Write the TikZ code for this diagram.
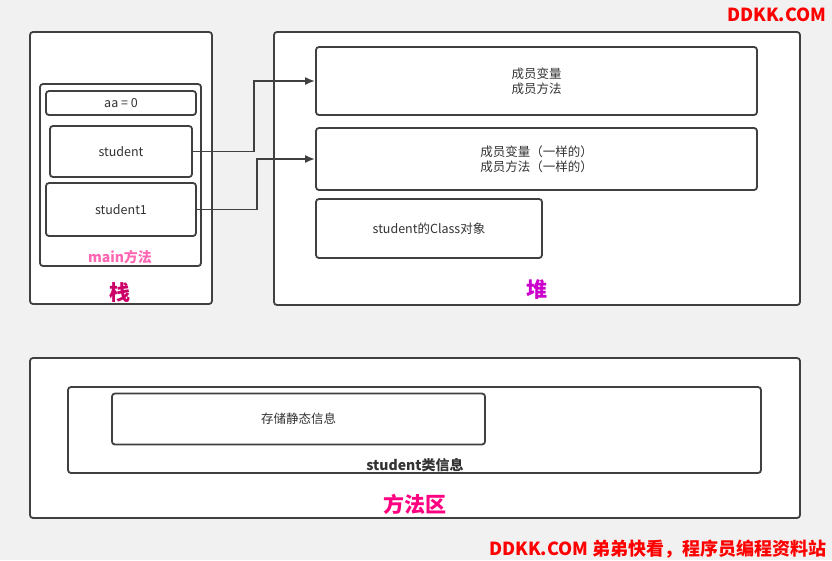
\documentclass[tikz,border=0pt]{standalone}
\usepackage{fontspec}
\setmainfont{Noto Sans CJK SC}
\usepackage{xcolor}
\usetikzlibrary{arrows.meta}
\definecolor{boxline}{RGB}{64,64,64}
\definecolor{textgray}{RGB}{51,51,51}
\definecolor{bggray}{RGB}{241,241,241}
\definecolor{stackpink}{RGB}{204,0,102}
\definecolor{heappurple}{RGB}{204,0,204}
\definecolor{methodpink}{RGB}{255,0,128}
\definecolor{mainpink}{RGB}{255,102,179}
\definecolor{markred}{RGB}{255,0,0}

\begin{document}
\begin{tikzpicture}[x=1pt, y=-1pt, every node/.style={text=textgray, font=\fontsize{12.5}{15}\selectfont}]
    \tikzstyle{area} = [rectangle, rounded corners=3pt, draw=boxline, fill=white, line width=1.8pt, inner sep=0pt]
    \tikzstyle{cell} = [rectangle, rounded corners=3pt, draw=boxline, fill=white, line width=1.8pt, text centered, align=center, inner sep=0pt]
    \tikzstyle{title} = [font=\fontsize{21}{24}\selectfont\bfseries]
    \tikzstyle{ref} = [draw=boxline, line width=1.8pt, -{Latex[length=10pt,width=8pt]}]

    % background and page size
    \fill [bggray] (0,0) rectangle (832,560);
    \useasboundingbox (0,0) rectangle (832,560);

    % stack
    \node [area, minimum width=182pt, minimum height=272pt] (stack) at (121,168) {};
    \node [area, minimum width=161pt, minimum height=182pt] (mainm) at (120.5,175) {};
    \node [cell, minimum width=150pt, minimum height=24pt] (aa) at (121,103) {aa = 0};
    \node [cell, minimum width=142pt, minimum height=51pt] (student) at (121,151.5) {student};
    \node [cell, minimum width=150pt, minimum height=53pt] (student1) at (121,209.5) {student1};
    \node [font=\fontsize{14}{16}\selectfont\bfseries, text=mainpink] (mainlabel) at (120,257) {main方法};
    \node [title, text=stackpink] (stacklabel) at (120,293) {栈};

    % heap
    \node [area, minimum width=526pt, minimum height=273pt] (heap) at (537,168.5) {};
    \node [cell, minimum width=441pt, minimum height=68pt] (obj1) at (536.5,81) {成员变量\\成员方法};
    \node [cell, minimum width=441pt, minimum height=62pt] (obj2) at (536.5,159) {成员变量（一样的）\\成员方法（一样的）};
    \node [cell, minimum width=226pt, minimum height=59pt] (clsobj) at (429,228.5) {student的Class对象};
    \node [title, text=heappurple] (heaplabel) at (537,290) {堆};

    % method area
    \node [area, minimum width=770pt, minimum height=160pt] (method) at (415,438) {};
    \node [area, minimum width=693pt, minimum height=86pt] (clsinfo) at (414.5,430) {};
    \node [cell, minimum width=373pt, minimum height=51pt] (static) at (298.5,419) {存储静态信息};
    \node [font=\fontsize{14}{16}\selectfont\bfseries] (clslabel) at (415,465) {student类信息};
    \node [title, text=methodpink] (methodlabel) at (415,504) {方法区};

    % references
    \draw [ref] (student.east) -- ++(61,0) |- (obj1.west);
    \draw [ref] (student1.east) -- ++(60,0) |- (obj2.west);

    % marks
    \node [font=\fontsize{18}{20}\selectfont\bfseries, text=markred, anchor=east] (mark1) at (830,15) {DDKK.COM};
    \node [font=\fontsize{18}{20}\selectfont\bfseries, text=markred, anchor=east] (mark2) at (830,549) {DDKK.COM 弟弟快看，程序员编程资料站};
\end{tikzpicture}
\end{document}
